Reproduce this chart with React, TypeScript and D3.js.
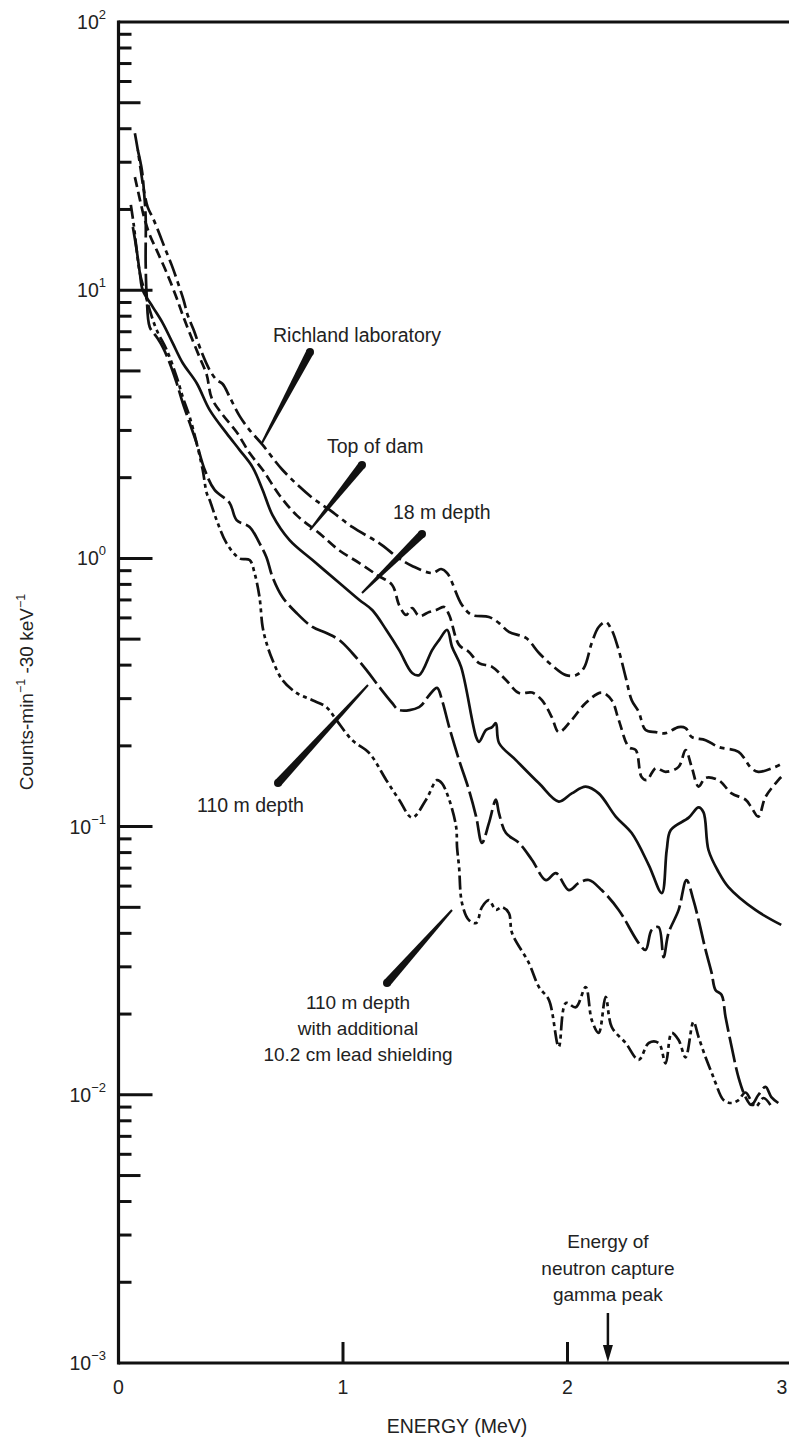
import React from 'react';
import * as d3 from 'd3';

// ---- Data (energy in MeV, counts per min per 30 keV) ----
const RICHLAND_E = [0.073,0.086,0.099,0.113,0.130,0.153,0.175,0.206,0.237,0.264,0.290,0.308,0.335,0.370,0.406,0.437,0.464,0.495,0.539,0.584,0.642,0.730,0.864,0.939,1.041,1.161,1.250,1.308,1.397,1.437,1.464,1.530,1.575,1.650,1.695,1.739,1.815,1.873,1.930,1.993,2.037,2.073,2.108,2.139,2.170,2.197,2.228,2.259,2.286,2.317,2.348,2.393,2.437,2.495,2.526,2.553,2.615,2.673,2.762,2.819,2.850,2.926,2.952];
const RICHLAND_C = [38.5,33.3,28.1,23.6,20.4,18.6,16.8,14.4,12.4,10.7,9.19,8.08,7.10,5.88,5.04,4.63,4.47,4.00,3.40,3.01,2.65,2.14,1.68,1.52,1.31,1.14,1.00,0.937,0.882,0.913,0.882,0.670,0.615,0.605,0.574,0.532,0.505,0.444,0.400,0.367,0.367,0.390,0.484,0.555,0.579,0.541,0.455,0.361,0.296,0.268,0.229,0.225,0.223,0.235,0.233,0.216,0.210,0.198,0.190,0.165,0.160,0.167,0.171];

const DAM_E = [0.073,0.086,0.099,0.117,0.139,0.170,0.215,0.259,0.286,0.317,0.361,0.393,0.415,0.464,0.526,0.584,0.642,0.717,0.793,0.895,0.984,1.073,1.152,1.219,1.250,1.281,1.308,1.339,1.384,1.415,1.450,1.473,1.517,1.561,1.606,1.664,1.726,1.784,1.842,1.886,1.930,1.961,2.019,2.081,2.152,2.197,2.228,2.273,2.304,2.330,2.353,2.393,2.437,2.495,2.526,2.553,2.584,2.615,2.673,2.731,2.793,2.819,2.850,2.882,2.939,2.952];
const DAM_C = [26.4,23.6,21.1,18.3,16.1,14.1,11.6,9.35,8.08,6.92,5.63,4.83,3.96,3.43,2.96,2.47,2.14,1.72,1.45,1.24,1.07,0.961,0.867,0.796,0.670,0.615,0.653,0.610,0.631,0.642,0.659,0.615,0.476,0.448,0.407,0.394,0.352,0.315,0.316,0.296,0.256,0.225,0.250,0.289,0.316,0.296,0.250,0.198,0.193,0.153,0.149,0.165,0.160,0.167,0.193,0.167,0.141,0.152,0.149,0.133,0.126,0.118,0.109,0.129,0.149,0.153];

const D18_E = [0.064,0.081,0.095,0.108,0.153,0.197,0.241,0.286,0.348,0.406,0.481,0.539,0.597,0.642,0.686,0.762,0.864,0.984,1.073,1.130,1.193,1.250,1.308,1.339,1.397,1.428,1.464,1.486,1.526,1.593,1.606,1.637,1.664,1.681,1.695,1.770,1.873,1.961,2.019,2.081,2.139,2.215,2.286,2.362,2.420,2.442,2.460,2.540,2.584,2.606,2.628,2.673,2.717,2.837,2.952];
const D18_C = [17.2,14.1,11.6,10.0,8.65,7.54,6.36,5.35,4.51,3.58,2.93,2.54,2.19,1.80,1.45,1.17,0.986,0.810,0.700,0.642,0.541,0.455,0.374,0.367,0.455,0.496,0.541,0.467,0.394,0.216,0.207,0.229,0.235,0.243,0.205,0.177,0.145,0.124,0.133,0.141,0.133,0.109,0.0946,0.0719,0.0565,0.0818,0.0971,0.108,0.118,0.113,0.0818,0.0677,0.0595,0.0489,0.0430];

const D110_E = [0.086,0.104,0.113,0.121,0.121,0.126,0.139,0.170,0.197,0.228,0.259,0.286,0.317,0.348,0.384,0.428,0.495,0.526,0.584,0.628,0.659,0.686,0.730,0.793,0.864,0.926,0.984,1.041,1.104,1.161,1.219,1.250,1.339,1.384,1.419,1.441,1.473,1.517,1.561,1.593,1.619,1.650,1.681,1.695,1.726,1.784,1.842,1.904,1.948,2.006,2.050,2.095,2.152,2.228,2.317,2.348,2.375,2.406,2.428,2.450,2.495,2.530,2.561,2.584,2.615,2.642,2.659,2.686,2.704,2.731,2.762,2.793,2.819,2.850,2.882,2.908,2.939];
const D110_C = [33.3,28.1,23.6,18.7,12.6,9.43,7.29,6.69,6.14,5.35,4.51,3.80,3.20,2.69,2.14,1.80,1.61,1.39,1.31,1.14,1.01,0.852,0.718,0.626,0.555,0.527,0.496,0.444,0.384,0.332,0.289,0.272,0.279,0.309,0.329,0.296,0.235,0.177,0.137,0.109,0.0869,0.103,0.126,0.112,0.0946,0.0869,0.0751,0.0632,0.0671,0.0580,0.0616,0.0632,0.0580,0.0489,0.0368,0.0347,0.0412,0.0422,0.0326,0.0401,0.0489,0.0632,0.0532,0.0448,0.0347,0.0285,0.0246,0.0236,0.0195,0.0151,0.0116,0.00981,0.00916,0.00998,0.0107,0.00981,0.00932];

const LEAD_E = [0.055,0.068,0.081,0.095,0.117,0.139,0.170,0.215,0.259,0.286,0.317,0.348,0.375,0.393,0.406,0.437,0.481,0.539,0.584,0.606,0.628,0.642,0.659,0.686,0.730,0.793,0.864,0.926,0.970,1.041,1.117,1.193,1.250,1.308,1.370,1.419,1.441,1.473,1.504,1.508,1.517,1.530,1.561,1.593,1.619,1.650,1.681,1.708,1.739,1.753,1.828,1.873,1.917,1.961,1.993,2.037,2.081,2.108,2.139,2.170,2.197,2.259,2.317,2.362,2.406,2.437,2.464,2.495,2.526,2.561,2.584,2.615,2.642,2.659,2.695,2.731,2.762,2.793,2.837,2.873,2.904];
const LEAD_C = [20.8,17.5,14.1,11.6,9.85,8.44,7.10,5.98,4.75,4.00,3.37,2.69,2.14,1.75,1.65,1.39,1.14,1.00,0.986,0.882,0.718,0.555,0.484,0.418,0.352,0.315,0.296,0.279,0.250,0.210,0.188,0.149,0.126,0.108,0.126,0.149,0.145,0.126,0.0997,0.0839,0.0707,0.0519,0.0448,0.0437,0.0501,0.0532,0.0489,0.0501,0.0476,0.0401,0.0310,0.0252,0.0226,0.0151,0.0220,0.0212,0.0252,0.0190,0.0170,0.0232,0.0179,0.0156,0.0135,0.0156,0.0156,0.0131,0.0170,0.0160,0.0138,0.0187,0.0164,0.0138,0.0121,0.0111,0.00956,0.00932,0.00956,0.0102,0.00901,0.00973,0.00916];

const DECADE_EXPONENTS = [2, 1, 0, -1, -2, -3];
const X_TICKS = [1, 2];
const X_TICK_LABELS = [0, 1, 2, 3];
const PEAK_ENERGY = 2.18;

const SERIES = [
  { key: 'richland', e: RICHLAND_E, c: RICHLAND_C, dash: '18 5 5 5' },
  { key: 'dam', e: DAM_E, c: DAM_C, dash: '10 5' },
  { key: 'd18', e: D18_E, c: D18_C, dash: null },
  { key: 'd110', e: D110_E, c: D110_C, dash: '26 5' },
  { key: 'lead', e: LEAD_E, c: LEAD_C, dash: '14 4 4 4 4 4' },
];

const FONT = '"Liberation Sans", Arial, Helvetica, sans-serif';

function wedge(x1: number, y1: number, x2: number, y2: number, w1: number, w2: number) {
  const dx = x2 - x1, dy = y2 - y1;
  const len = Math.sqrt(dx * dx + dy * dy);
  const nx = -dy / len, ny = dx / len;
  const pts = [
    [x1 + nx * w1 / 2, y1 + ny * w1 / 2],
    [x2 + nx * w2 / 2, y2 + ny * w2 / 2],
    [x2 - nx * w2 / 2, y2 - ny * w2 / 2],
    [x1 - nx * w1 / 2, y1 - ny * w1 / 2],
  ];
  return pts.map(p => p.join(',')).join(' ');
}

export default function App() {
  const W = 789, H = 1437;
  const x = d3.scaleLinear().domain([0, 3]).range([118.5, 792]);
  const y = d3.scaleLog().domain([1e-3, 1e2]).range([1363, 22]);
  const line = d3.line<[number, number]>()
    .x(d => x(d[0]))
    .y(d => y(d[1]))
    .curve(d3.curveCatmullRom.alpha(0.5));

  const minorTicks: { v: number; len: number }[] = [];
  for (let k = -3; k <= 1; k++) {
    for (let m = 2; m <= 9; m++) {
      minorTicks.push({ v: m * Math.pow(10, k), len: m === 5 ? 22 : 13 });
    }
  }
  const x0 = x(0);
  const yTop = y(1e2), yBot = y(1e-3);
  const px = x(PEAK_ENERGY);

  const pointers = [
    { a: [310, 352], b: [262, 443] },
    { a: [362, 465], b: [310, 530] },
    { a: [422, 534], b: [362, 593] },
    { a: [278, 783], b: [368, 685] },
    { a: [387, 983], b: [452, 910] },
  ];

  return (
    <svg width={W} height={H} style={{ position: 'absolute', left: 0, top: 0, background: '#fff' }} fontFamily={FONT}>
      <rect x={0} y={0} width={W} height={H} fill="#fff" />
      {/* frame */}
      <line x1={x0} x2={x(3)} y1={yTop} y2={yTop} stroke="#111" strokeWidth={3} />
      <line x1={x0} x2={x(3)} y1={yBot} y2={yBot} stroke="#111" strokeWidth={3} />
      <line x1={x0} x2={x0} y1={yTop - 1.5} y2={yBot + 1.5} stroke="#111" strokeWidth={3.2} />
      <line x1={x(3)} x2={x(3)} y1={yTop} y2={yBot} stroke="#111" strokeWidth={3} />

      {/* y ticks */}
      {DECADE_EXPONENTS.filter(k => k < 2 && k > -3).map(k => (
        <line key={'d' + k} x1={x0} x2={x0 + 34} y1={y(Math.pow(10, k))} y2={y(Math.pow(10, k))} stroke="#111" strokeWidth={3} />
      ))}
      {minorTicks.map((t, i) => (
        <line key={'m' + i} x1={x0} x2={x0 + t.len} y1={y(t.v)} y2={y(t.v)} stroke="#111" strokeWidth={3} />
      ))}
      {DECADE_EXPONENTS.map(k => (
        <text key={'l' + k} x={106} y={y(Math.pow(10, k)) + 7} textAnchor="end" fontSize={19.5} fill="#222">
          10<tspan dy={-10} fontSize={13}>{k < 0 ? '\u2212' + Math.abs(k) : String(k)}</tspan>
        </text>
      ))}

      {/* x ticks */}
      {X_TICKS.map(t => (
        <line key={'xt' + t} x1={x(t)} x2={x(t)} y1={yBot} y2={yBot - 21} stroke="#111" strokeWidth={3} />
      ))}
      {X_TICK_LABELS.map(t => (
        <text key={'xl' + t} x={Math.min(x(t), 782)} y={1394} textAnchor="middle" fontSize={19.5} fill="#222">{t}</text>
      ))}
      <text x={457} y={1433} textAnchor="middle" fontSize={19.5} fill="#222">ENERGY (MeV)</text>

      {/* y title */}
      <text transform="translate(33,692) rotate(-90)" textAnchor="middle" fontSize={19} fill="#222">
        Counts-min<tspan dy={-8} fontSize={12.5}>{'\u22121'}</tspan><tspan dy={8}>{'  -30 keV'}</tspan><tspan dy={-8} fontSize={12.5}>{'\u22121'}</tspan>
      </text>

      {/* curves */}
      {SERIES.map(s => {
        const pts: [number, number][] = s.e.map((e, i) => [e, s.c[i]] as [number, number]).filter(p => p[1] !== undefined);
        return (
          <path key={s.key} d={line(pts) || ''} fill="none" stroke="#111" strokeWidth={2.7}
            strokeDasharray={s.dash || undefined} strokeLinejoin="round" />
        );
      })}

      {/* pointers */}
      {pointers.map((p, i) => (
        <g key={'p' + i}>
          <polygon points={wedge(p.a[0], p.a[1], p.b[0], p.b[1], 8, 2)} fill="#111" />
          <circle cx={p.a[0]} cy={p.a[1]} r={4} fill="#111" />
        </g>
      ))}

      {/* annotation labels */}
      <text x={273} y={342} fontSize={19.5} fill="#222">Richland laboratory</text>
      <text x={327} y={453} fontSize={19.5} fill="#222">Top of dam</text>
      <text x={393} y={519} fontSize={19.5} fill="#222">18 m depth</text>
      <text x={197} y={812} fontSize={19.5} fill="#222">110 m depth</text>
      <text x={358} y={1009} textAnchor="middle" fontSize={19} fill="#222">110 m depth</text>
      <text x={358} y={1035} textAnchor="middle" fontSize={19} fill="#222">with additional</text>
      <text x={358} y={1061} textAnchor="middle" fontSize={19} fill="#222">10.2 cm lead shielding</text>

      <text x={px} y={1248} textAnchor="middle" fontSize={19} fill="#222">Energy of</text>
      <text x={px} y={1275} textAnchor="middle" fontSize={19} fill="#222">neutron capture</text>
      <text x={px} y={1301} textAnchor="middle" fontSize={19} fill="#222">gamma peak</text>
      <line x1={px} x2={px} y1={1313} y2={1350} stroke="#111" strokeWidth={2.5} />
      <polygon points={`${px - 5},${1345} ${px + 5},${1345} ${px},${1362}`} fill="#111" />
    </svg>
  );
}
